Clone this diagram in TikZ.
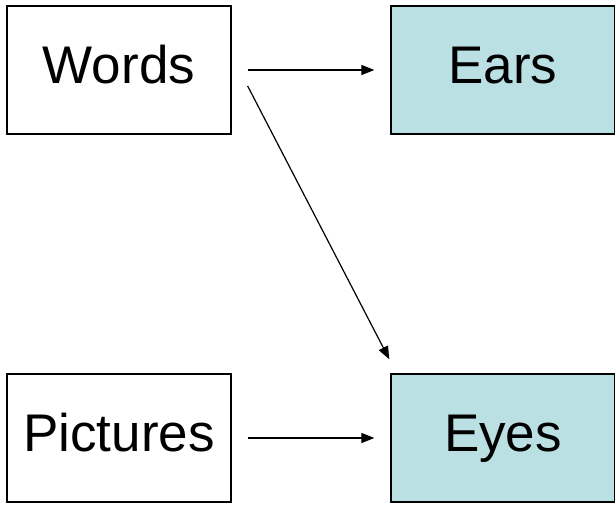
\documentclass[tikz,border=0pt]{standalone}
\usepackage{fontspec}
\setmainfont{Liberation Sans}
\usetikzlibrary{arrows.meta}
\definecolor{boxblue}{RGB}{187,224,227}
\tikzset{
  box/.style={draw=black, line width=1.3pt, minimum width=224pt, minimum height=128pt, inner sep=0pt, text height=38pt, text depth=12pt, font=\fontsize{53}{60}\selectfont},
  bluebox/.style={box, fill=boxblue},
  conn/.style={line width=1.2pt, -{Triangle[length=13pt,width=10pt]}}
}
\begin{document}
\begin{tikzpicture}[x=1pt,y=-1pt]
\useasboundingbox (0,0) rectangle (615,504);
\node[box] (words) at (119,70) {Words};
\node[bluebox] (ears) at (503,70) {Ears};
\node[box] (pictures) at (119,438) {Pictures};
\node[bluebox] (eyes) at (503,438) {Eyes};
\draw[conn, shorten <=16pt, shorten >=16pt] (words.east) -- (ears.west);
\draw[conn, shorten <=16pt, shorten >=16pt] (pictures.east) -- (eyes.west);
\draw[conn] ([shift={(16,16)}]words.east) -- ([shift={(-1,-14)}]eyes.north west);
\end{tikzpicture}
\end{document}
